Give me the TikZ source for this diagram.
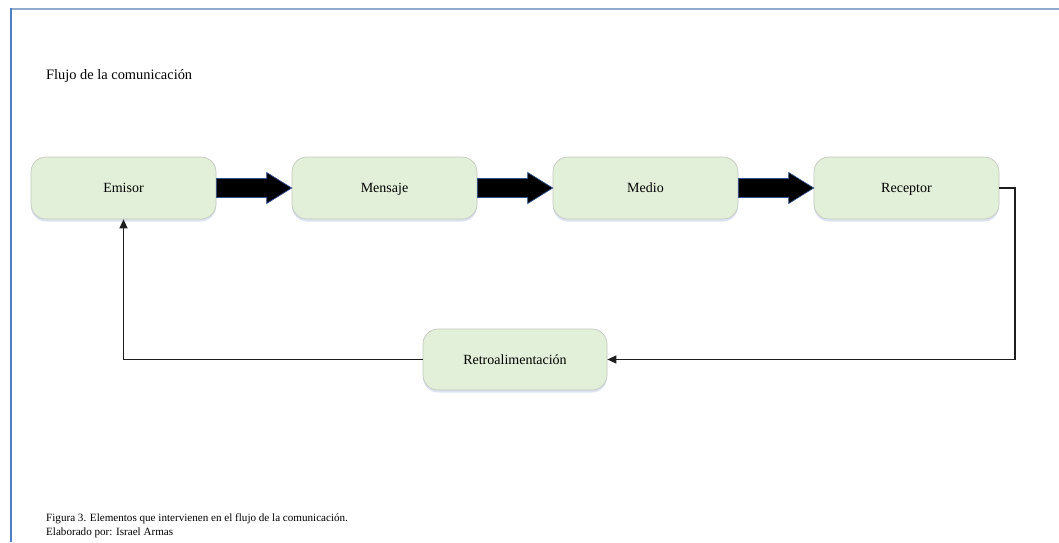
\documentclass[tikz,border=0pt]{standalone}
\usepackage{fontspec}
\setmainfont{Liberation Serif}
\usetikzlibrary{calc,shadows,arrows.meta}

\definecolor{boxfill}{HTML}{E2EFD9}
\definecolor{boxline}{HTML}{C4C8C0}
\definecolor{glow}{HTML}{9DB3DA}
\definecolor{frametop}{HTML}{8FAACB}
\definecolor{frameleft}{HTML}{4F7FC2}
\definecolor{arrowedge}{HTML}{2F4F8F}
\definecolor{linkcol}{HTML}{1E1E1E}

\tikzset{
  x=1pt, y=-1pt,
  stage/.style={draw=boxline, line width=0.7pt, fill=boxfill,
    rounded corners=15pt, minimum width=185pt, minimum height=62pt,
    font=\fontsize{14}{16}\selectfont, inner sep=0pt,
    text height=9.3pt, text depth=0pt,
    drop shadow={shadow xshift=0pt, shadow yshift=-2.5pt,
      fill=glow, opacity=0.35}},
  blockarrow/.style={fill=black, draw=arrowedge, line width=0.7pt},
  link/.style={draw=linkcol, line width=1.3pt,
    -{Triangle[length=9pt,width=8pt]}},
  note/.style={anchor=base west, inner sep=0pt},
}

\begin{document}
\begin{tikzpicture}
\useasboundingbox (0,0) rectangle (1059,542);
\fill[white] (0,0) rectangle (1059,542);

% page frame
\draw[frametop, line width=2pt] (11,8.5) -- (1059,8.5);
\draw[frameleft, line width=1.6pt] (11,8) -- (11,542);

% heading and caption
\node[note, font=\fontsize{14.4}{16}\selectfont] (title) at (46,79) {Flujo de la comunicación};
\node[note, font=\fontsize{11.1}{14}\selectfont] (cap1) at (46,521) {Figura 3. Elementos que intervienen en el flujo de la comunicación.};
\node[note, font=\fontsize{11.1}{14}\selectfont] (cap2) at (46,535) {Elaborado por: Israel Armas};

% stages
\node[stage] (emisor)   at (123.5,188) {Emisor};
\node[stage] (mensaje)  at (384.5,188) {Mensaje};
\node[stage] (medio)    at (645.5,188) {Medio};
\node[stage] (receptor) at (906.5,188) {Receptor};
\node[stage, minimum width=184pt, minimum height=61pt] (retro) at (515,359.5) {Retroalimentación};

% block arrows between stages
\foreach \a/\b in {emisor/mensaje, mensaje/medio, medio/receptor}{
  \filldraw[blockarrow]
    ($(\a.east)+(0,-9.5)$) -- ($(\b.west)+(-25,-9.5)$) --
    ($(\b.west)+(-25,-15.5)$) -- (\b.west) --
    ($(\b.west)+(-25,15.5)$) -- ($(\b.west)+(-25,9.5)$) --
    ($(\a.east)+(0,9.5)$) -- cycle;
}

% feedback loop
\coordinate (turn) at (1015,188);
\draw[link] (receptor.east) -- (turn) |- (retro.east);
\draw[link] (retro.west) -| (emisor.south);
\end{tikzpicture}
\end{document}
